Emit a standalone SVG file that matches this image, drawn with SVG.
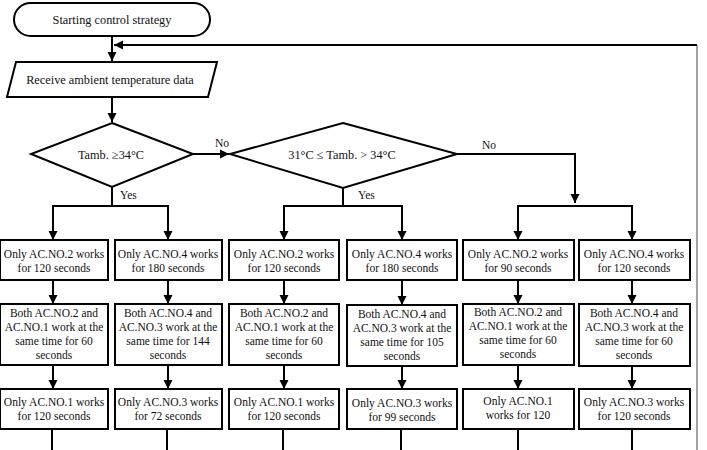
<svg xmlns="http://www.w3.org/2000/svg" width="707" height="450" viewBox="0 0 707 450">
<style>
  .shape { fill: #fff; stroke: #000; stroke-width: 2; }
  .ln { fill: none; stroke: #000; stroke-width: 2; }
  text { font-family: 'Liberation Serif', 'Times New Roman', serif; font-size: 11.5px; fill: #111; text-anchor: middle; }
  .big { font-size: 12.3px; }
  .lbl { text-anchor: start; font-size: 11.5px; }
</style>
<defs>
  <marker id="arr" markerWidth="10" markerHeight="10" refX="9" refY="5" orient="auto" markerUnits="userSpaceOnUse">
    <path d="M0,0.5 L9,5 L0,9.5 Z" fill="#000"/>
  </marker>
</defs>
<rect width="707" height="450" fill="#fff"/>

<g id="connectors">
  <line class="ln" x1="112" y1="37" x2="112" y2="61" marker-end="url(#arr)"/>
  <polyline points="697,450 697,45" fill="none" stroke="#666" stroke-width="1.2"/>
  <line class="ln" x1="697" y1="45" x2="114" y2="45" marker-end="url(#arr)"/>
  <line class="ln" x1="112" y1="97" x2="112" y2="122" marker-end="url(#arr)"/>
  <line class="ln" x1="193" y1="154" x2="229" y2="154" marker-end="url(#arr)"/>
  <polyline class="ln" points="457,154 575,154 575,203" marker-end="url(#arr)"/>
  <line class="ln" x1="112" y1="187" x2="112" y2="206"/>
  <polyline class="ln" points="53,239 53,206 168,206 168,239"/>
  <line class="ln" x1="53" y1="210" x2="53" y2="240" marker-end="url(#arr)"/>
  <line class="ln" x1="168" y1="210" x2="168" y2="240" marker-end="url(#arr)"/>
  <line class="ln" x1="343" y1="188" x2="343" y2="206"/>
  <polyline class="ln" points="284,239 284,206 402,206 402,239"/>
  <line class="ln" x1="284" y1="210" x2="284" y2="240" marker-end="url(#arr)"/>
  <line class="ln" x1="402" y1="210" x2="402" y2="240" marker-end="url(#arr)"/>
  <polyline class="ln" points="518,239 518,206 632,206 632,239"/>
  <line class="ln" x1="518" y1="210" x2="518" y2="240" marker-end="url(#arr)"/>
  <line class="ln" x1="632" y1="210" x2="632" y2="240" marker-end="url(#arr)"/>
  <line class="ln" x1="53" y1="280" x2="53" y2="304" marker-end="url(#arr)"/>
  <line class="ln" x1="168" y1="280" x2="168" y2="304" marker-end="url(#arr)"/>
  <line class="ln" x1="284" y1="280" x2="284" y2="304" marker-end="url(#arr)"/>
  <line class="ln" x1="402" y1="280" x2="402" y2="305" marker-end="url(#arr)"/>
  <line class="ln" x1="518" y1="280" x2="518" y2="304" marker-end="url(#arr)"/>
  <line class="ln" x1="632" y1="280" x2="632" y2="304" marker-end="url(#arr)"/>
  <line class="ln" x1="53" y1="365" x2="53" y2="389" marker-end="url(#arr)"/>
  <line class="ln" x1="168" y1="365" x2="168" y2="389" marker-end="url(#arr)"/>
  <line class="ln" x1="284" y1="365" x2="284" y2="389" marker-end="url(#arr)"/>
  <line class="ln" x1="402" y1="366" x2="402" y2="389" marker-end="url(#arr)"/>
  <line class="ln" x1="518" y1="365" x2="518" y2="389" marker-end="url(#arr)"/>
  <line class="ln" x1="632" y1="366" x2="632" y2="389" marker-end="url(#arr)"/>
  <line class="ln" x1="52" y1="429" x2="52" y2="450"/>
  <line class="ln" x1="167" y1="429" x2="167" y2="450"/>
  <line class="ln" x1="283" y1="429" x2="283" y2="450"/>
  <line class="ln" x1="401" y1="429" x2="401" y2="450"/>
  <line class="ln" x1="518" y1="429" x2="518" y2="450"/>
  <line class="ln" x1="632" y1="429" x2="632" y2="450"/>
  <text class="lbl" x="215" y="147">No</text>
  <text class="lbl" x="482" y="149">No</text>
  <text class="lbl" x="120" y="199">Yes</text>
  <text class="lbl" x="358" y="199">Yes</text>
</g>

<g id="start">
  <rect class="shape" x="14" y="3" width="196" height="33" rx="16.5"/>
  <text class="big" x="112" y="24">Starting control strategy</text>
</g>
<g id="receive">
  <polygon class="shape" points="16,62 217,62 208,97 7,97"/>
  <text class="big" x="110" y="84">Receive ambient temperature data</text>
</g>
<g id="decision1">
  <polygon class="shape" points="112,123 193,154 112,187 31,154"/>
  <text class="big" x="111" y="159">Tamb. ≥34°C</text>
</g>
<g id="decision2">
  <polygon class="shape" points="343,123 457,154 343,188 230,154"/>
  <text class="big" x="342" y="159">31°C ≤ Tamb. &gt; 34°C</text>
</g>

<g id="c1r1"><rect class="shape" x="0" y="240" width="108" height="40"/><text x="54" y="258">Only AC.NO.2 works</text><text x="54" y="272">for 120 seconds</text></g>
<g id="c2r1"><rect class="shape" x="115" y="240" width="107" height="40"/><text x="168" y="258">Only AC.NO.4 works</text><text x="168" y="272">for 180 seconds</text></g>
<g id="c3r1"><rect class="shape" x="229" y="240" width="110" height="40"/><text x="284" y="258">Only AC.NO.2 works</text><text x="284" y="272">for 120 seconds</text></g>
<g id="c4r1"><rect class="shape" x="347" y="240" width="110" height="40"/><text x="402" y="258">Only AC.NO.4 works</text><text x="402" y="272">for 180 seconds</text></g>
<g id="c5r1"><rect class="shape" x="463" y="240" width="111" height="40"/><text x="518" y="258">Only AC.NO.2 works</text><text x="518" y="272">for 90 seconds</text></g>
<g id="c6r1"><rect class="shape" x="579" y="240" width="111" height="40"/><text x="634" y="258">Only AC.NO.4 works</text><text x="634" y="272">for 120 seconds</text></g>

<g id="c1r2"><rect class="shape" x="0" y="304" width="108" height="61"/><text x="54" y="317">Both AC.NO.2 and</text><text x="54" y="331">AC.NO.1 work at the</text><text x="54" y="345">same time for 60</text><text x="54" y="359">seconds</text></g>
<g id="c2r2"><rect class="shape" x="115" y="304" width="107" height="61"/><text x="168" y="317">Both AC.NO.4 and</text><text x="168" y="331">AC.NO.3 work at the</text><text x="168" y="345">same time for 144</text><text x="168" y="359">seconds</text></g>
<g id="c3r2"><rect class="shape" x="229" y="304" width="110" height="61"/><text x="284" y="317">Both AC.NO.2 and</text><text x="284" y="331">AC.NO.1 work at the</text><text x="284" y="345">same time for 60</text><text x="284" y="359">seconds</text></g>
<g id="c4r2"><rect class="shape" x="347" y="305" width="110" height="61"/><text x="402" y="318">Both AC.NO.4 and</text><text x="402" y="332">AC.NO.3 work at the</text><text x="402" y="346">same time for 105</text><text x="402" y="360">seconds</text></g>
<g id="c5r2"><rect class="shape" x="463" y="304" width="111" height="61"/><text x="518" y="316">Both AC.NO.2 and</text><text x="518" y="330">AC.NO.1 work at the</text><text x="518" y="344">same time for 60</text><text x="518" y="358">seconds</text></g>
<g id="c6r2"><rect class="shape" x="579" y="304" width="111" height="62"/><text x="634" y="317">Both AC.NO.4 and</text><text x="634" y="331">AC.NO.3 work at the</text><text x="634" y="345">same time for 60</text><text x="634" y="359">seconds</text></g>

<g id="c1r3"><rect class="shape" x="0" y="389" width="108" height="40"/><text x="54" y="406">Only AC.NO.1 works</text><text x="54" y="420">for 120 seconds</text></g>
<g id="c2r3"><rect class="shape" x="115" y="389" width="107" height="40"/><text x="168" y="406">Only AC.NO.3 works</text><text x="168" y="420">for 72 seconds</text></g>
<g id="c3r3"><rect class="shape" x="229" y="389" width="110" height="40"/><text x="284" y="406">Only AC.NO.1 works</text><text x="284" y="420">for 120 seconds</text></g>
<g id="c4r3"><rect class="shape" x="347" y="389" width="110" height="40"/><text x="402" y="407">Only AC.NO.3 works</text><text x="402" y="421">for 99 seconds</text></g>
<g id="c5r3"><rect class="shape" x="463" y="389" width="111" height="40"/><text x="518" y="405">Only AC.NO.1</text><text x="518" y="419">works for 120</text></g>
<g id="c6r3"><rect class="shape" x="579" y="389" width="111" height="40"/><text x="634" y="406">Only AC.NO.3 works</text><text x="634" y="420">for 120 seconds</text></g>
</svg>
